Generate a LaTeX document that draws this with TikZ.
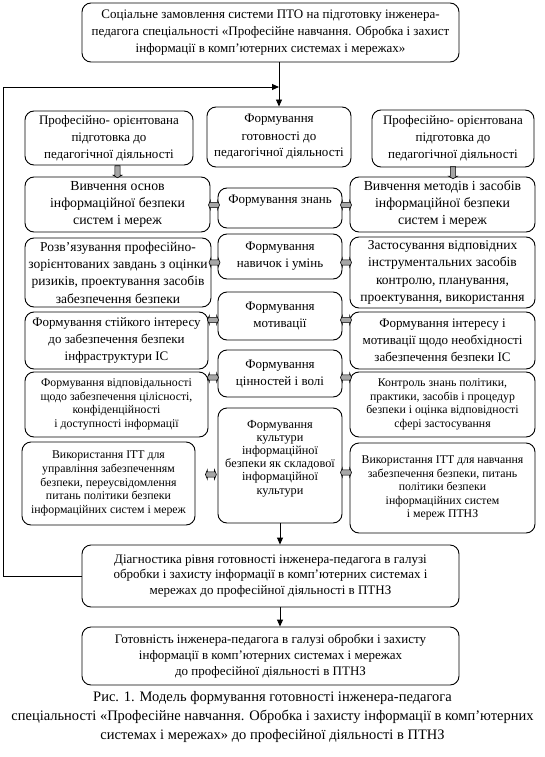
\documentclass[tikz,border=0pt]{standalone}
\usepackage{fontspec}
\setmainfont{Liberation Serif}
\usetikzlibrary{shapes.arrows,arrows.meta,calc}
\begin{document}
\begin{tikzpicture}[x=1pt,y=-1pt,
  box/.style={draw, line width=0.9pt, rounded corners=9pt, align=center, inner sep=1pt},
  fA/.style={font=\fontsize{13}{17}\selectfont},
  fB/.style={font=\fontsize{13.8}{17}\selectfont},
  fC/.style={font=\fontsize{13.5}{17.3}\selectfont},
  fD/.style={font=\fontsize{11.8}{13.6}\selectfont},
  fE/.style={font=\fontsize{12.3}{13.2}\selectfont},
  fF/.style={font=\fontsize{13}{15.8}\selectfont},
  arr/.style={line width=0.9pt, -{Triangle[length=7pt,width=6pt]}},
  garrv/.style={single arrow, draw, fill=gray!70, line width=0.6pt, shape border rotate=270,
    minimum height=12pt, minimum width=9pt, single arrow head extend=2pt, inner sep=2.3pt,
    single arrow tip angle=120},
  garrh/.style={double arrow, draw, fill=gray!70, line width=0.6pt,
    minimum height=11pt, minimum width=9pt, double arrow head extend=2pt, inner sep=2.3pt,
    double arrow tip angle=135},
]
\path[fill=white] (0,0) rectangle (545,757);
\useasboundingbox (0,0) rectangle (545,757);

\node[box,fA,minimum width=377pt,minimum height=59pt] (top) at (270.5,32.5)
  {Соціальне замовлення системи ПТО на підготовку інженера-\\педагога спеціальності «Професійне навчання. Обробка і захист\\інформації в комп’ютерних системах і мережах»};

% row 1
\node[box,fA,minimum width=168pt,minimum height=54pt] (L1) at (109,138)
  {Професійно- орієнтована\\підготовка до\\педагогічної діяльності};
\node[box,fA,minimum width=144pt,minimum height=60pt] (M1) at (279,137)
  {Формування\\готовності до\\педагогічної діяльності};
\node[box,fA,minimum width=162pt,minimum height=57pt] (R1) at (453,138.5)
  {Професійно- орієнтована\\підготовка до\\педагогічної діяльності};

% row 2
\node[box,fB,minimum width=185pt,minimum height=55pt] (L2) at (117.5,204.5)
  {Вивчення основ\\інформаційної безпеки\\систем і мереж};
\node[box,fA,minimum width=124pt,minimum height=40pt,text depth=17pt] (M2) at (280,208)
  {Формування знань};
\node[box,fB,minimum width=185pt,minimum height=55pt] (R2) at (442.5,204.5)
  {Вивчення методів і засобів\\інформаційної безпеки\\систем і мереж};

% row 3
\node[box,fC,minimum width=186pt,minimum height=69pt] (L3) at (118,272.5)
  {Розв’язування професійно-\\зорієнтованих завдань з оцінки\\ризиків, проектування засобів\\забезпечення безпеки};
\node[box,fA,minimum width=124pt,minimum height=45pt] (M3) at (280,256.5)
  {Формування\\навичок і умінь};
\node[box,fC,minimum width=185pt,minimum height=71pt] (R3) at (442.5,272.5)
  {Застосування відповідних\\інструментальних засобів\\контролю, планування,\\проектування, використання};

% row 4
\node[box,fA,minimum width=183pt,minimum height=57pt] (L4) at (116.5,340.5)
  {Формування стійкого інтересу\\до забезпечення безпеки\\інфраструктури ІС};
\node[box,fA,minimum width=124pt,minimum height=48pt] (M4) at (280,316)
  {Формування\\мотивації};
\node[box,fA,minimum width=185pt,minimum height=57pt] (R4) at (442.5,340.5)
  {Формування інтересу і\\мотивації щодо необхідності\\забезпечення безпеки ІС};

% row 5
\node[box,fD,minimum width=183pt,minimum height=65pt] (L5) at (116.5,404.5)
  {Формування відповідальності\\щодо забезпечення цілісності,\\конфіденційності\\і доступності інформації};
\node[box,fA,minimum width=124pt,minimum height=47pt] (M5) at (280,373.5)
  {Формування\\цінностей і волі};
\node[box,fD,minimum width=185pt,minimum height=65pt] (R5) at (442.5,404.5)
  {Контроль знань політики,\\практики, засобів і процедур\\безпеки і оцінка відповідності\\сфері застосування};

% row 6
\node[box,fD,minimum width=173pt,minimum height=83pt] (L6) at (108.5,483.5)
  {Використання ІТТ для\\управління забезпеченням\\безпеки, переусвідомлення\\питань політики безпеки\\інформаційних систем і мереж};
\node[box,fE,minimum width=124pt,minimum height=115pt,text depth=17pt] (M6) at (280,465.5)
  {Формування\\культури\\інформаційної\\безпеки як складової\\інформаційної\\культури};
\node[box,fD,minimum width=185pt,minimum height=90pt] (R6) at (442.5,488)
  {Використання ІТТ для навчання\\забезпечення безпеки, питань\\політики безпеки\\інформаційних систем\\і мереж ПТНЗ};

% bottom
\node[box,fF,minimum width=377pt,minimum height=62pt] (diag) at (270.5,576)
  {Діагностика рівня готовності інженера-педагога в галузі\\обробки і захисту інформації в комп’ютерних системах і\\мережах до професійної діяльності в ПТНЗ};
\node[box,fF,minimum width=377pt,minimum height=58pt] (final) at (270.5,656)
  {Готовність інженера-педагога в галузі обробки і захисту\\інформації в комп’ютерних системах і мережах\\до професійної діяльності в ПТНЗ};
\node[align=center,inner sep=0pt,font=\fontsize{14.5}{19}\selectfont] (caption) at (272.5,717)
  {Рис. 1. Модель формування готовності інженера-педагога\\спеціальності «Професійне навчання. Обробка і захисту інформації в комп’ютерних\\системах і мережах» до професійної діяльності в ПТНЗ};

% black connectors
\coordinate (fb) at (3,87);
\draw[arr] (top.south -| M1.north) -- (M1.north);
\draw[arr] (diag.west) -| (fb) -- (M1.north |- fb);
\draw[arr] (M6.south) -- (M6.south |- diag.north);
\draw[arr] (diag.south -| M6.south) -- (final.north -| M6.south);

% grey vertical arrows
\path (L2.north |- L1.south) -- node[garrv]{} (L2.north);
\path (R1.south) -- node[garrv]{} (R1.south |- R2.north);

% grey double arrows
\coordinate (a2) at ($(M2.west)+(0,-3)$); \coordinate (b2) at ($(M2.east)+(0,-3)$);
\coordinate (a3) at ($(M3.west)+(0,6)$);  \coordinate (b3) at ($(M3.east)+(0,6)$);
\coordinate (a4) at ($(M4.west)+(0,4)$);  \coordinate (b4) at ($(M4.east)+(0,4)$);
\coordinate (a5) at ($(M5.west)+(0,4)$);  \coordinate (b5) at ($(M5.east)+(0,4)$);
\coordinate (a6) at ($(M6.west)+(0,9)$);  \coordinate (b6) at ($(M6.east)+(0,7)$);
\path (a2 -| L2.east) -- node[garrh]{} (a2);
\path (b2) -- node[garrh]{} (b2 -| R2.west);
\path (a3 -| L3.east) -- node[garrh]{} (a3);
\path (b3) -- node[garrh]{} (b3 -| R3.west);
\path (a4 -| L4.east) -- node[garrh]{} (a4);
\path (b4) -- node[garrh]{} (b4 -| R4.west);
\path (a5 -| L5.east) -- node[garrh]{} (a5);
\path (b5) -- node[garrh]{} (b5 -| R5.west);
\path (a6 -| L6.east) -- node[garrh,pos=0.7]{} (a6);
\path (b6) -- node[garrh]{} (b6 -| R6.west);
\end{tikzpicture}
\end{document}
